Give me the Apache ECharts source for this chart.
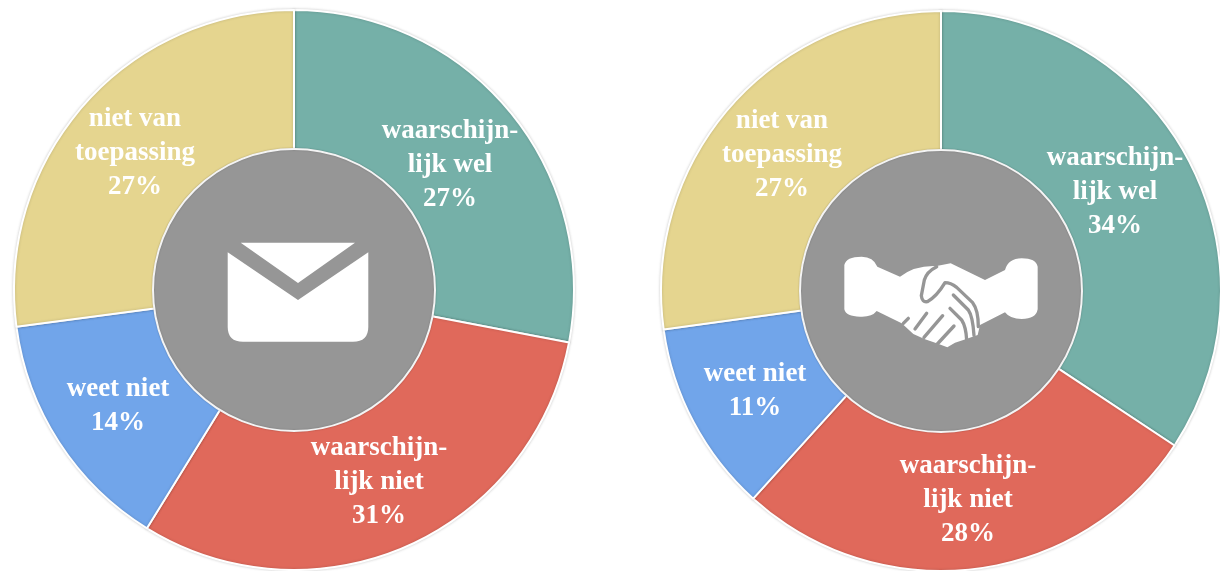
<!DOCTYPE html>
<html>
<head>
<meta charset="utf-8">
<title>donuts</title>
<script src="https://cdn.jsdelivr.net/npm/echarts@6/dist/echarts.min.js"></script>
<style>
html,body{margin:0;padding:0;background:#fff;}
#main{width:1220px;height:571px;}
</style>
</head>
<body>
<div id="main"></div>
<script>
// slice names, clockwise from 12 o'clock
var categories=["waarschijn-\nlijk wel","waarschijn-\nlijk niet","weet niet","niet van\ntoepassing"];
var colors=["#75b0a8","#e0695b","#71a5ea","#e5d58f"];
var mailShares=[28,30.8,14.1,27.1];
var mailLabels=["27%","31%","14%","27%"];
var dealShares=[34.3,27.4,11.1,27.2];
var dealLabels=["34%","28%","11%","27%"];

var labelSpots=[
	[[450,165],[379,482],[118,406],[135,153]],
	[[1115,192],[968,500],[755,391],[782,155]]
];

var grey="#969696";
var envelopePath="M240.7 242.7L355 242.7L298 283ZM227.7 252.3L298 300L368.3 252.3L368.3 327Q368.3 341.7 353 341.7L243 341.7Q227.7 341.7 227.7 327Z";
// hands are traced in a 900x900 box, the two corner moves keep that box for the fit
var handsPath="M0 0M163 345Q168 320 215 320Q250 320 262 350L330 380Q375 345 440 348L482 340L585 390L645 360Q655 325 695 325Q738 325 743 350L743 478Q738 507 695 507Q660 507 645 487L570 525L563 555L520 570L495 578L472 592L440 580L405 568L370 552L335 520L260 483Q245 502 210 500Q168 500 163 478ZM900 900";
var handLines="M0 0M440 350Q410 365 403 390L394 437Q396 458 412 455Q440 440 465 398Q482 398 500 412L548 458Q565 480 565 530M490 435L535 480Q548 498 552 556M480 475L515 510Q528 530 530 570M340 520L355 505M375 537L410 490M402 562L458 497M442 582L492 528M900 900";

function ring(center,shares,labels,idx){
	return {
		type:"pie",
		center:center,
		radius:[139,280],
		startAngle:90,
		clockwise:true,
		silent:true,
		animation:false,
		itemStyle:{borderColor:"#fff",borderWidth:2,shadowBlur:3,shadowColor:"rgba(0,0,0,0.18)"},
		label:{
			position:"inside",
			color:"#fff",
			fontFamily:"Liberation Serif",
			fontWeight:"bold",
			fontSize:27,
			lineHeight:34,
			align:"center",
			verticalAlign:"middle",
			formatter:function(p){return categories[p.dataIndex]+"\n"+labels[p.dataIndex];}
		},
		labelLine:{show:false},
		labelLayout:function(p){
			var s=labelSpots[idx][p.dataIndex];
			return {x:s[0],y:s[1],align:"center",verticalAlign:"middle"};
		},
		data:shares.map(function(v,i){
			return {value:v,name:categories[i],itemStyle:{color:colors[i]}};
		})
	};
}
function hub(center){
	return {
		type:"pie",
		center:center,
		radius:[0,141],
		silent:true,
		animation:false,
		z:5,
		label:{show:false},
		labelLine:{show:false},
		itemStyle:{color:grey,borderColor:"#f4f4f4",borderWidth:2,shadowBlur:2,shadowColor:"rgba(0,0,0,0.2)"},
		data:[{value:1,name:"hub"}]
	};
}
function icons(){
	return {
		type:"custom",
		coordinateSystem:"none",
		silent:true,
		animation:false,
		z:10,
		data:[[0]],
		renderItem:function(){
			var box={x:0,y:0,width:900,height:900};
			return {type:"group",children:[
				{type:"path",shape:{pathData:envelopePath,x:227.7,y:242.7,width:140.6,height:99},style:{fill:"#fff"}},
				{type:"group",x:790,y:150,scaleX:1/3,scaleY:1/3,children:[
					{type:"path",shape:Object.assign({pathData:handsPath},box),style:{fill:"#fff"}},
					{type:"path",shape:Object.assign({pathData:handLines},box),style:{fill:null,stroke:grey,lineWidth:10,lineCap:"round",lineJoin:"round"}}
				]}
			]};
		}
	};
}

var myChart=echarts.init(document.getElementById("main"),null,{renderer:"canvas"});
myChart.setOption({
	backgroundColor:"#fff",
	animation:false,
	tooltip:{show:false},
	legend:{show:false},
	series:[
		ring([294,290],mailShares,mailLabels,0),
		hub([294,290]),
		ring([941,291],dealShares,dealLabels,1),
		hub([941,291]),
		icons()
	]
});
</script>
</body>
</html>
